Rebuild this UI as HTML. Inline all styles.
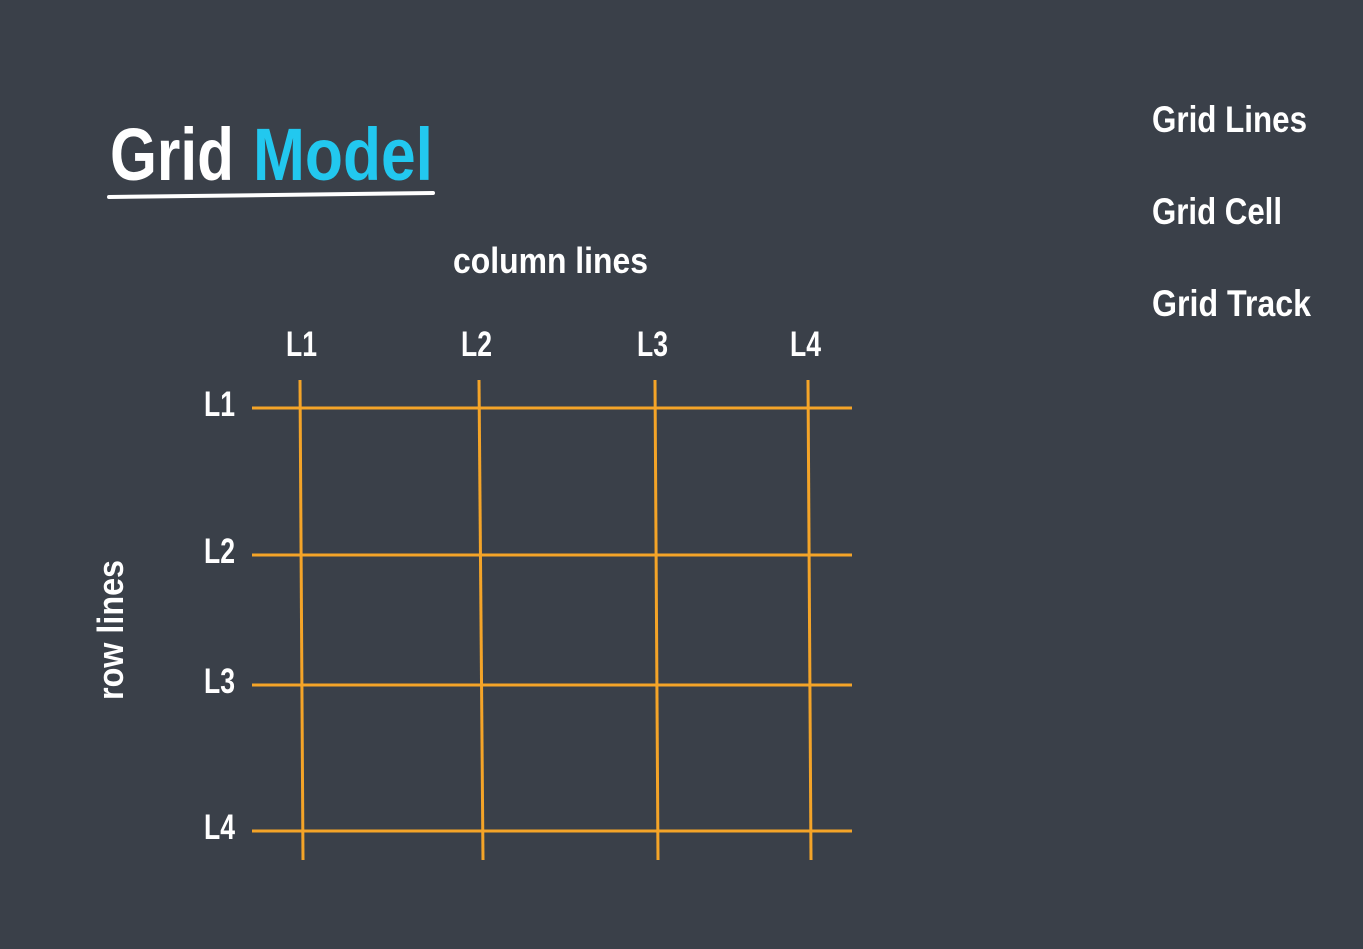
<!DOCTYPE html>
<html><head><meta charset="utf-8"><style>
html,body{margin:0;padding:0;background:#3a4049;}
svg{display:block}
text{font-family:"Liberation Sans Narrow","Liberation Sans",sans-serif;font-weight:bold;fill:#fff}
</style></head><body>
<svg id="s" width="1363" height="949" viewBox="0 0 1363 949">
<rect width="1363" height="949" fill="#3a4049"/>
<text x="110" y="180" font-size="74" textLength="124" lengthAdjust="spacingAndGlyphs">Grid</text>
<text x="253" y="180" font-size="74" textLength="180" lengthAdjust="spacingAndGlyphs" style="fill:#22c8ef">Model</text>
<path d="M109 197 L433 193" stroke="#fff" stroke-width="4" stroke-linecap="round"/>
<text x="1152" y="132" font-size="37" textLength="155" lengthAdjust="spacingAndGlyphs">Grid Lines</text>
<text x="1152" y="224" font-size="37" textLength="130" lengthAdjust="spacingAndGlyphs">Grid Cell</text>
<text x="1152" y="316" font-size="37" textLength="159" lengthAdjust="spacingAndGlyphs">Grid Track</text>
<text x="453" y="273" font-size="36" textLength="195" lengthAdjust="spacingAndGlyphs">column lines</text>
<text transform="translate(123,700) rotate(-90)" x="0" y="0" font-size="36" textLength="140" lengthAdjust="spacingAndGlyphs">row lines</text>
<g id="g"></g>
</svg>
<script>
const colLabels=["L1","L2","L3","L4"];
const colTop=[300,479,655,808];
const colBottom=[303,483,658,811];
const rowLabels=["L1","L2","L3","L4"];
const rowY=[408,555,685,831];
const NS="http://www.w3.org/2000/svg";
const g=document.getElementById("g");
function mk(t,a){const e=document.createElementNS(NS,t);for(const k in a)e.setAttribute(k,a[k]);g.appendChild(e);return e;}
rowY.forEach((y,i)=>{
  const l=mk("line",{x1:252,y1:y,x2:852,y2:y,stroke:"#f4a428","stroke-width":3});
  
  
  const t=mk("text",{x:204,y:y+8,"font-size":35,textLength:31,lengthAdjust:"spacingAndGlyphs"});
  t.textContent=rowLabels[i];
  
  
});
colTop.forEach((x,i)=>{
  const l=mk("line",{x1:x,y1:380,x2:colBottom[i],y2:860,stroke:"#f4a428","stroke-width":3});
  
  
  const t=mk("text",{x:x-(i===0?14:18),y:356,"font-size":35,textLength:31,lengthAdjust:"spacingAndGlyphs"});
  t.textContent=colLabels[i];
  
  
});
</script>
</body></html>
